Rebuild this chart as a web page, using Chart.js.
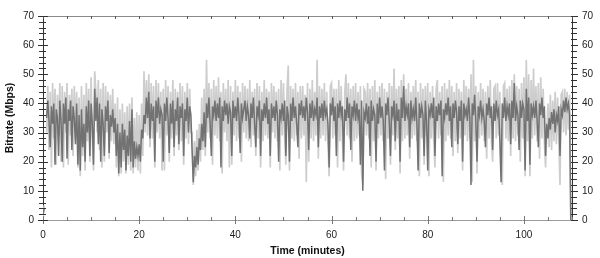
<!DOCTYPE html>
<html>
<head>
<meta charset="utf-8">
<script src="https://cdn.jsdelivr.net/npm/chart.js@4"></script>
<style>
  body { margin: 0; background: #fff; }
  #wrap { width: 600px; height: 258px; }
</style>
</head>
<body>
<div id="wrap"><canvas id="bitrateChart" width="600" height="258"></canvas></div>
<script>
// one value every quarter minute
const stepMinutes = 0.25;

// dark grey trace (Mbps)
const darkRate = [
  2,4,null,35, 41,34,25,39, 33,40,19,38, 35,22,41,34, 20,40,33,42,
  21,38,34,41, 24,39,35,26, 40,19,36,17, 38,25,33,20, 39,30,41,22,
  40,33,19,45, 34,42,26,40, 20,38,33,22, 39,34,41,23, 36,32,38,30,
  35,22,33,16, 30,18,33,24, 31,17,29,22, 34,20,38,18, 27,21,25,22,
  26,20,31,28, 36,33,42,35, 44,28,40,34, 39,20,41,35, 42,33,38,36,
  20,40,34,42, 35,23,40,33, 41,25,38,34, 42,26,39,35, 40,22,38,34,
  42,30,39,36, 24,13,22,18, 25,19,28,24, 33,27,37,25, 40,35,42,33,
  22,39,36,41, 34,40,35,42, 18,39,34,41, 36,40,33,39, 37,22,41,35,
  39,34,42,36, 23,40,35,38, 41,34,39,36, 28,40,35,42, 33,25,39,36,
  41,22,38,34, 40,35,42,33, 38,22,40,35, 39,34,41,36, 20,38,35,40,
  34,41,22,39, 36,20,40,34, 42,35,39,33, 25,40,36,41, 35,39,34,42,
  37,24,40,35, 41,34,38,36, 42,25,39,35, 40,34,41,36, 38,33,18,40,
  36,42,34,39, 22,40,35,41, 36,39,20,38, 34,42,35,40, 24,39,36,41,
  34,40,35,38, 19,41,10,37, 35,40,33,39, 22,41,34,38, 36,20,40,33,
  42,35,39,34, 17,40,36,42, 34,22,39,36, 41,27,40,34, 38,20,42,35,
  46,34,39,36, 40,25,41,35, 38,34,42,33, 17,40,35,39, 36,22,41,34,
  17,38,36,40, 35,42,22,39, 34,40,36,41, 15,38,35,40, 36,42,34,39,
  25,40,35,41, 37,26,39,34, 41,20,40,36, 38,34,42,35, 12,40,36,43,
  34,20,39,36, 41,35,38,34, 25,40,36,42, 35,39,24,40, 34,41,36,38,
  27,13,40,35, 42,34,39,36, 40,26,41,35, 47,34,39,36, 24,41,35,40,
  38,17,45,34, 42,19,40,36, 39,35,41,34, 25,40,36,42, 35,39,22,33,
  28,35,31,37, 33,38,30,36, 34,39,22,38, 36,41,37,42, 38,40,36,0
];

// light grey trace (Mbps)
const lightRate = [
  0,5,null,30, 46,24,44,18, 47,28,45,19, 43,29,47,20, 46,18,44,30,
  47,19,43,29, 45,22,46,28, 44,18,42,15, 46,22,43,17, 47,27,45,20,
  49,28,17,51, 44,30,48,24, 45,18,47,20, 46,30,44,21, 43,27,45,26,
  40,18,42,15, 38,16,40,20, 37,16,39,19, 40,17,42,16, 35,18,37,17,
  36,16,40,22, 51,30,48,29, 50,25,47,28, 46,18,48,30, 47,28,44,17,
  45,17,48,29, 46,20,44,28, 48,22,45,29, 44,24,47,27, 46,19,44,28,
  47,26,45,30, 30,12,27,15, 31,17,33,20, 42,24,45,22, 55,30,47,28,
  45,19,48,29, 46,28,49,27, 44,16,47,30, 45,27,48,18, 46,19,44,29,
  48,27,46,28, 44,20,47,30, 46,28,45,27, 48,25,44,29, 45,22,47,28,
  46,18,44,27, 48,29,45,28, 44,18,47,30, 46,28,44,27, 45,17,48,29,
  47,28,19,45, 53,17,46,28, 45,27,47,29, 44,21,46,28, 46,29,43,13,
  47,20,45,28, 48,27,44,29, 55,21,46,28, 45,29,47,27, 44,27,15,46,
  47,28,45,29, 45,18,48,27, 46,28,17,44, 50,29,47,28, 45,20,46,27,
  47,28,44,29, 46,16,12,45, 44,29,47,28, 45,18,46,27, 48,17,44,28,
  46,29,47,27, 45,14,44,28, 47,19,46,29, 52,24,45,28, 46,16,48,27,
  50,28,45,29, 47,21,44,28, 46,29,48,27, 44,15,47,28, 45,19,46,29,
  47,15,44,28, 46,27,18,45, 48,28,44,29, 46,13,47,27, 45,29,48,28,
  46,22,44,27, 47,23,45,28, 44,17,48,29, 46,27,45,28, 50,13,55,27,
  46,16,44,28, 47,29,45,27, 44,21,46,28, 48,27,20,45, 46,28,47,29,
  44,23,12,46, 47,28,45,27, 46,22,48,28, 50,27,46,29, 45,20,47,28,
  49,15,55,27, 50,15,48,28, 52,29,46,27, 47,21,49,28, 45,27,18,30,
  40,25,43,24, 41,27,44,26, 42,28,12,43, 44,30,45,29, 44,31,43,0
];

const timeTicks = [0, 20, 40, 60, 80, 100];
const rateTicks = [0, 10, 20, 30, 40, 50, 60, 70];

const toPoints = arr => arr.map((v, i) => ({ x: i * stepMinutes, y: v }));

const labelFont = { family: '"Liberation Sans", Arial, sans-serif', size: 10 };
const titleFont = { family: '"Liberation Sans", Arial, sans-serif', size: 10.5, weight: 'bold' };

// small tick marks on all four sides, like the original plot frame
const frameTicks = {
  id: 'frameTicks',
  afterDraw(chart) {
    const { ctx, chartArea: a, scales } = chart;
    ctx.save();
    ctx.lineWidth = 1;

    // top border
    ctx.strokeStyle = '#8a8a8a';
    ctx.beginPath();
    ctx.moveTo(a.left, a.top + 0.5);
    ctx.lineTo(a.right, a.top + 0.5);
    ctx.stroke();

    ctx.beginPath();
    for (let m = 0; m <= 110; m += 5) {
      const x = Math.round(scales.x.getPixelForValue(m)) + 0.5;
      ctx.moveTo(x, a.top);
      ctx.lineTo(x, a.top + 3);
    }
    ctx.strokeStyle = '#555';
    ctx.stroke();

    // bottom
    ctx.beginPath();
    for (let m = 0; m <= 110; m += 5) {
      const x = Math.round(scales.x.getPixelForValue(m)) + 0.5;
      const major = m % 20 === 0;
      ctx.moveTo(x, a.bottom - (major ? 4 : 3));
      ctx.lineTo(x, a.bottom + (major ? 4 : 1));
    }
    ctx.strokeStyle = '#777';
    ctx.stroke();

    // left and right
    ctx.beginPath();
    for (let v = 0; v <= 70; v += 2) {
      const y = Math.round(scales.y.getPixelForValue(v)) + 0.5;
      const major = v % 10 === 0;
      ctx.moveTo(a.left - (major ? 5 : 4), y);
      ctx.lineTo(a.left + (major ? 5 : 3), y);
      ctx.moveTo(a.right - 1, y);
      ctx.lineTo(a.right + (major ? 6 : 5), y);
    }
    ctx.strokeStyle = '#333';
    ctx.stroke();
    ctx.restore();
  }
};

new Chart(document.getElementById('bitrateChart'), {
  type: 'line',
  data: {
    datasets: [{
      label: 'dark',
      data: toPoints(darkRate),
      borderColor: '#727272',
      borderWidth: 1.5,
      pointRadius: 0,
      tension: 0
    }, {
      label: 'light',
      data: toPoints(lightRate),
      borderColor: '#cdcdcd',
      borderWidth: 1.7,
      pointRadius: 0,
      tension: 0
    }]
  },
  options: {
    responsive: false,
    animation: false,
    events: [],
    layout: { padding: { top: 9, left: 0, right: 0, bottom: 0 } },
    plugins: { legend: { display: false }, tooltip: { enabled: false } },
    scales: {
      x: {
        type: 'linear',
        position: 'bottom',
        min: 0,
        max: 110,
        afterBuildTicks: s => { s.ticks = timeTicks.map(v => ({ value: v })); },
        afterFit: s => { s.height = 38; },
        ticks: { font: labelFont, color: '#222', padding: 9, maxRotation: 0 },
        grid: { display: false, drawTicks: false },
        border: { display: true, color: '#9a9a9a' },
        title: { display: true, text: 'Time (minutes)', font: titleFont, color: '#111', padding: { top: 0, bottom: 1 } }
      },
      y: {
        position: 'left',
        min: 0,
        max: 70,
        afterBuildTicks: s => { s.ticks = rateTicks.map(v => ({ value: v })); },
        afterFit: s => { s.width = 43; },
        ticks: { font: labelFont, color: '#222', padding: 9 },
        grid: { display: false, drawTicks: false },
        border: { display: true, color: '#333' },
        title: { display: true, text: 'Bitrate (Mbps)', font: titleFont, color: '#111', padding: { top: 4, bottom: 0 } }
      },
      y2: {
        position: 'right',
        min: 0,
        max: 70,
        afterBuildTicks: s => { s.ticks = rateTicks.map(v => ({ value: v })); },
        afterFit: s => { s.width = 28; },
        ticks: { font: labelFont, color: '#222', padding: 10 },
        grid: { display: false, drawTicks: false },
        border: { display: true, color: '#333' }
      }
    }
  },
  plugins: [frameTicks]
});
</script>
</body>
</html>
